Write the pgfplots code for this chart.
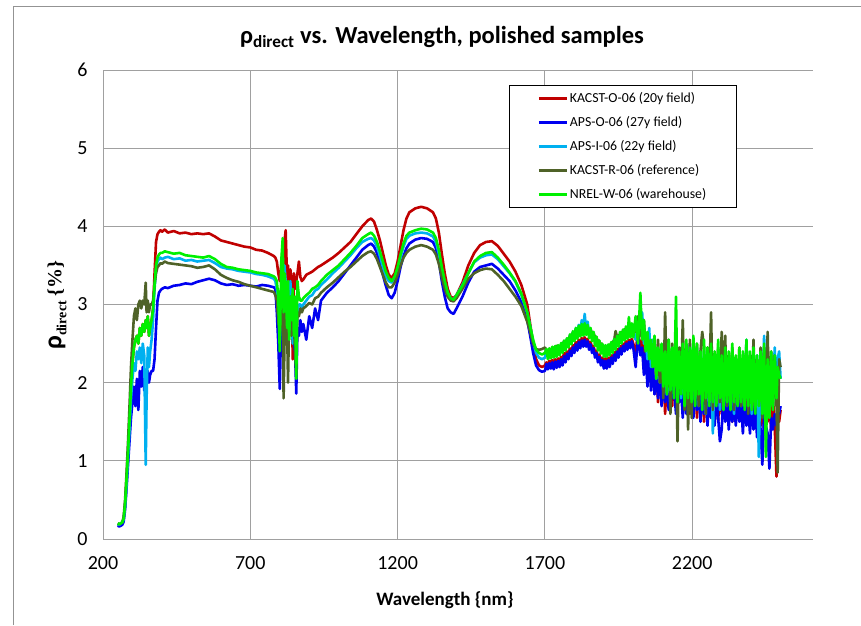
\documentclass[border=0pt]{standalone}
\usepackage{pgfplots}
\pgfplotsset{compat=1.18}
\usepackage{pgfplotstable}
\usepackage{fontspec}
\setmainfont{Carlito}
\newfontfamily\serif{Liberation Serif}
\definecolor{cRed}{HTML}{C00000}
\definecolor{cBlue}{HTML}{0000F0}
\definecolor{cCyan}{HTML}{00B0F0}
\definecolor{cOlive}{HTML}{4F6228}
\definecolor{cGreen}{HTML}{00F000}
\definecolor{gridc}{HTML}{A0A0A0}
\pgfplotstableread{
x r b c o g
250 0.19 0.17 0.19 0.20 0.20
255 0.18 0.16 0.18 0.19 0.19
260 0.19 0.17 0.20 0.20 0.20
265 0.20 0.18 0.21 0.21 0.21
270 0.25 0.22 0.25 0.28 0.26
275 0.43 0.38 0.42 0.50 0.45
280 0.74 0.65 0.70 0.85 0.78
285 1.08 0.95 1.05 1.25 1.12
290 1.46 1.25 1.40 1.70 1.52
295 1.95 1.55 1.80 2.20 1.95
300 2.25 1.75 2.05 2.55 2.25
305 2.45 1.95 2.25 2.85 2.45
310 2.55 1.70 2.15 2.95 2.55
315 2.60 2.05 2.40 2.80 2.60
320 2.50 1.65 2.30 3.00 2.50
325 2.70 2.15 2.45 3.05 2.70
330 2.60 1.95 2.25 2.95 2.60
335 2.75 2.20 2.50 3.05 2.75
340 2.65 1.90 2.35 3.00 2.65
345 2.80 2.10 0.95 3.28 2.80
348 2.70 2.05 1.80 2.90 2.70
352 2.85 2.15 2.45 3.05 2.85
356 2.60 2.00 2.20 2.90 2.60
360 2.70 2.10 2.40 3.00 2.70
365 2.80 2.15 2.55 3.00 2.80
370 2.95 2.15 2.80 3.05 2.95
375 3.40 2.30 3.20 3.25 3.25
380 3.80 2.70 3.45 3.40 3.50
385 3.90 3.05 3.55 3.48 3.60
390 3.93 3.15 3.58 3.50 3.64
395 3.95 3.18 3.60 3.53 3.66
400 3.93 3.20 3.58 3.52 3.66
410 3.96 3.22 3.60 3.55 3.68
420 3.92 3.21 3.61 3.53 3.67
440 3.94 3.24 3.58 3.52 3.65
460 3.91 3.25 3.59 3.51 3.66
480 3.92 3.27 3.56 3.50 3.63
500 3.90 3.26 3.57 3.49 3.62
520 3.91 3.29 3.55 3.47 3.61
540 3.90 3.31 3.56 3.48 3.60
560 3.91 3.33 3.57 3.50 3.62
580 3.87 3.31 3.53 3.45 3.58
600 3.82 3.27 3.48 3.38 3.52
620 3.80 3.25 3.46 3.34 3.48
640 3.78 3.26 3.45 3.31 3.47
660 3.76 3.24 3.43 3.29 3.45
680 3.74 3.25 3.42 3.26 3.44
700 3.73 3.24 3.41 3.24 3.43
720 3.70 3.23 3.39 3.22 3.41
740 3.69 3.25 3.38 3.20 3.40
760 3.66 3.24 3.36 3.18 3.39
780 3.62 3.22 3.33 3.16 3.36
785 3.60 3.20 3.30 3.12 3.34
790 3.55 2.90 3.20 3.05 3.30
795 3.40 2.50 3.05 2.80 3.10
800 3.30 1.92 2.60 2.60 2.40
805 3.50 2.80 3.10 2.95 3.55
810 3.70 3.40 3.60 3.30 3.85
813 3.40 2.60 3.00 1.80 2.90
816 3.80 3.30 3.50 2.50 3.40
820 3.95 3.00 3.30 3.10 3.20
825 3.30 2.60 2.90 2.70 2.70
828 3.50 3.10 3.20 2.00 3.30
832 3.20 2.70 2.80 2.90 2.55
836 3.45 3.00 3.30 3.10 3.10
840 3.30 2.60 2.90 2.60 2.80
844 2.30 2.80 2.50 2.90 3.20
848 3.40 2.50 2.80 2.75 2.60
852 3.20 2.40 2.70 2.40 3.10
856 3.30 1.86 2.60 2.10 2.05
860 3.40 2.70 2.90 2.90 3.30
865 3.55 2.60 3.00 2.85 3.10
870 3.35 2.80 3.00 2.95 3.05
875 3.30 2.65 2.95 2.90 3.05
880 3.32 2.75 3.00 2.95 3.08
890 3.38 2.55 3.05 2.98 3.12
900 3.40 2.85 3.10 3.02 3.15
910 3.42 2.70 3.12 3.00 3.20
920 3.45 2.95 3.18 3.08 3.22
930 3.48 2.80 3.20 3.10 3.25
940 3.50 3.05 3.25 3.15 3.30
960 3.55 3.15 3.32 3.22 3.38
980 3.60 3.22 3.40 3.28 3.44
1000 3.66 3.30 3.47 3.35 3.50
1020 3.73 3.40 3.55 3.42 3.58
1040 3.80 3.50 3.63 3.48 3.66
1060 3.90 3.60 3.72 3.55 3.75
1080 4.00 3.70 3.80 3.62 3.85
1100 4.08 3.76 3.84 3.67 3.90
1110 4.10 3.78 3.85 3.68 3.92
1120 4.06 3.74 3.82 3.65 3.88
1130 3.95 3.66 3.74 3.58 3.80
1140 3.82 3.52 3.62 3.48 3.68
1150 3.66 3.38 3.48 3.38 3.55
1160 3.50 3.24 3.36 3.28 3.42
1170 3.38 3.12 3.30 3.22 3.34
1180 3.34 3.08 3.28 3.22 3.30
1190 3.40 3.15 3.34 3.28 3.36
1200 3.55 3.30 3.45 3.38 3.48
1210 3.75 3.48 3.60 3.50 3.64
1220 3.95 3.62 3.74 3.60 3.78
1230 4.10 3.72 3.84 3.66 3.88
1240 4.18 3.78 3.88 3.70 3.92
1260 4.23 3.83 3.91 3.74 3.95
1280 4.25 3.85 3.92 3.76 3.97
1300 4.23 3.84 3.91 3.74 3.96
1320 4.18 3.80 3.87 3.70 3.92
1330 4.10 3.72 3.80 3.64 3.85
1340 3.92 3.55 3.65 3.52 3.70
1350 3.65 3.30 3.45 3.35 3.48
1360 3.40 3.10 3.28 3.20 3.30
1370 3.20 2.95 3.15 3.10 3.15
1380 3.10 2.90 3.08 3.05 3.08
1390 3.08 2.88 3.06 3.04 3.06
1400 3.12 2.95 3.12 3.08 3.12
1420 3.28 3.10 3.25 3.20 3.24
1440 3.50 3.28 3.40 3.33 3.40
1460 3.66 3.42 3.54 3.40 3.55
1480 3.76 3.48 3.60 3.44 3.62
1500 3.80 3.50 3.63 3.46 3.66
1520 3.81 3.52 3.64 3.45 3.67
1540 3.75 3.46 3.58 3.38 3.60
1560 3.65 3.38 3.49 3.30 3.51
1580 3.55 3.30 3.40 3.20 3.41
1600 3.42 3.18 3.29 3.10 3.30
1620 3.25 3.03 3.12 2.98 3.14
1640 3.00 2.80 2.90 2.78 2.90
1650 2.75 2.60 2.72 2.65 2.72
1660 2.50 2.38 2.52 2.50 2.55
1670 2.30 2.22 2.38 2.43 2.42
1680 2.22 2.16 2.32 2.42 2.38
1690 2.20 2.14 2.30 2.43 2.36
1700 2.22 2.15 2.32 2.45 2.38
1705 2.26 2.24 2.42 2.42 2.43
1710 2.23 2.17 2.35 2.37 2.30
1715 2.28 2.25 2.43 2.43 2.44
1720 2.24 2.18 2.36 2.40 2.31
1725 2.29 2.26 2.44 2.45 2.46
1730 2.25 2.17 2.37 2.44 2.32
1735 2.30 2.27 2.45 2.46 2.47
1740 2.26 2.19 2.38 2.47 2.33
1745 2.31 2.28 2.46 2.47 2.48
1750 2.27 2.20 2.40 2.44 2.35
1755 2.33 2.30 2.49 2.49 2.51
1760 2.30 2.22 2.43 2.48 2.38
1765 2.38 2.34 2.53 2.53 2.54
1770 2.33 2.26 2.46 2.50 2.41
1775 2.40 2.37 2.56 2.56 2.57
1780 2.37 2.30 2.50 2.53 2.45
1785 2.44 2.41 2.61 2.60 2.62
1790 2.40 2.34 2.54 2.58 2.49
1795 2.48 2.45 2.65 2.64 2.66
1800 2.45 2.38 2.58 2.62 2.53
1805 2.52 2.49 2.70 2.68 2.70
1810 2.48 2.41 2.61 2.65 2.56
1815 2.55 2.52 2.74 2.70 2.73
1820 2.51 2.44 2.64 2.68 2.59
1825 2.57 2.54 2.80 2.72 2.75
1830 2.53 2.46 2.68 2.70 2.60
1835 2.58 2.55 2.88 2.74 2.76
1840 2.53 2.46 2.67 2.71 2.61
1845 2.56 2.53 2.78 2.72 2.74
1850 2.49 2.42 2.62 2.66 2.57
1855 2.52 2.49 2.68 2.68 2.70
1860 2.45 2.38 2.58 2.64 2.53
1865 2.47 2.44 2.63 2.64 2.65
1870 2.39 2.32 2.52 2.58 2.47
1875 2.41 2.38 2.57 2.58 2.59
1880 2.33 2.26 2.46 2.53 2.41
1885 2.36 2.33 2.52 2.52 2.54
1890 2.29 2.22 2.42 2.50 2.37
1895 2.32 2.29 2.48 2.48 2.50
1900 2.25 2.18 2.38 2.46 2.33
1905 2.31 2.28 2.46 2.46 2.48
1910 2.25 2.18 2.38 2.45 2.33
1915 2.32 2.29 2.47 2.47 2.49
1920 2.27 2.20 2.40 2.48 2.35
1925 2.35 2.32 2.50 2.50 2.52
1930 2.31 2.24 2.44 2.52 2.38
1935 2.39 2.36 2.55 2.54 2.56
1940 2.35 2.28 2.48 2.66 2.42
1945 2.43 2.40 2.58 2.58 2.60
1950 2.39 2.32 2.52 2.60 2.46
1955 2.47 2.44 2.62 2.62 2.65
1960 2.43 2.36 2.56 2.64 2.50
1965 2.50 2.47 2.66 2.66 2.68
1970 2.47 2.40 2.60 2.68 2.54
1975 2.53 2.50 2.69 2.69 2.72
1980 2.49 2.42 2.62 2.70 2.56
1985 2.55 2.52 2.71 2.71 2.84
1990 2.51 2.44 2.64 2.72 2.58
1995 2.56 2.53 2.72 2.72 2.76
2000 2.50 2.45 2.64 2.74 2.58
2008 2.35 2.20 2.55 2.65 2.85
2016 2.70 2.60 2.75 2.85 2.50
2024 2.40 2.35 2.65 2.60 3.15
2030 2.55 2.45 2.90 2.75 2.55
2036 2.20 2.10 2.50 2.80 2.80
2042 2.50 2.40 2.60 2.45 2.40
2048 2.10 1.95 2.30 2.60 2.65
2054 2.45 2.35 2.70 2.40 2.30
2060 2.00 1.90 2.20 2.50 2.55
2066 2.30 2.20 2.55 2.20 2.20
2072 1.90 1.85 2.40 2.45 2.60
2078 2.25 2.10 2.05 2.15 2.05
2084 1.75 1.80 2.35 2.55 2.45
2090 2.20 2.15 2.00 2.00 2.15
2096 1.80 1.70 2.45 2.40 2.50
2102 2.30 2.05 1.90 1.80 1.95
2108 1.60 1.75 2.30 2.90 2.40
2114 2.10 2.00 1.85 1.95 1.85
2120 1.90 1.65 2.50 2.55 2.55
2126 2.20 2.10 1.70 1.60 1.90
2132 1.70 1.80 2.40 2.50 2.45
2138 2.15 1.95 2.00 2.10 1.80
2145 1.85 1.60 2.55 2.45 3.10
2150 2.05 2.10 1.90 1.25 1.75
2156 1.80 1.75 2.35 2.45 2.40
2162 2.25 1.90 1.80 2.00 1.85
2168 1.65 1.55 2.45 2.80 2.50
2174 2.00 2.05 1.75 1.65 1.70
2180 1.75 1.60 2.30 2.45 2.55
2186 2.10 1.95 1.95 1.40 1.80
2192 1.60 1.70 2.50 2.55 2.45
2198 2.05 1.85 1.65 1.55 1.75
2204 1.85 1.55 2.35 2.45 2.60
2210 2.15 2.00 1.80 2.10 1.70
2216 1.55 1.65 2.45 2.50 2.50
2222 1.95 1.90 1.70 1.70 1.85
2228 1.70 1.50 2.25 2.40 2.40
2234 2.10 1.95 1.85 2.65 1.65
2240 1.50 1.60 2.40 2.45 2.55
2246 1.95 1.80 1.60 1.60 1.80
2252 1.65 1.45 2.30 2.45 2.45
2258 2.00 1.90 1.75 2.00 1.70
2264 1.55 1.55 2.45 2.90 2.50
2270 1.90 1.85 1.35 1.65 1.75
2276 1.70 1.45 2.20 2.35 2.40
2282 2.05 1.90 1.85 2.00 1.70
2288 1.50 1.55 2.35 2.45 2.55
2294 1.95 1.25 1.65 1.75 1.80
2300 1.60 1.40 2.30 2.65 2.35
2306 2.00 1.85 1.80 1.95 1.65
2312 1.55 1.50 2.40 2.60 2.45
2318 1.90 1.80 1.70 1.70 1.75
2324 1.60 1.40 2.25 2.35 2.40
2330 1.95 1.85 1.80 1.95 1.65
2336 1.50 1.50 2.35 2.45 2.50
2342 1.85 1.75 1.60 1.65 1.75
2348 1.60 1.45 2.20 2.30 2.35
2354 1.95 1.85 1.75 1.90 1.70
2360 1.55 1.50 2.30 2.45 2.45
2366 1.90 1.75 1.70 1.70 1.75
2372 1.50 1.35 2.25 2.35 2.40
2378 1.85 1.80 1.80 1.95 1.65
2384 1.55 1.45 2.55 2.50 2.55
2390 1.90 1.70 1.70 1.60 1.70
2396 1.45 1.35 2.30 2.35 2.40
2402 1.80 1.75 1.60 1.85 1.65
2408 1.50 1.40 2.20 2.55 2.45
2414 1.85 1.70 1.75 1.65 1.60
2420 1.40 1.30 2.35 2.30 2.35
2426 1.80 1.65 1.05 1.80 1.70
2432 1.45 1.40 2.30 2.45 2.40
2438 1.75 0.95 1.65 1.55 1.60
2444 1.35 1.60 2.60 2.45 2.50
2450 1.70 1.45 1.75 1.70 1.05
2456 1.50 1.35 2.25 2.65 2.30
2462 1.75 0.90 1.60 1.55 1.55
2468 1.40 1.55 2.35 2.40 2.40
2474 1.80 1.40 1.70 1.70 1.65
2480 1.45 1.60 2.45 2.35 2.35
2486 0.80 1.45 1.75 1.75 1.80
2490 1.70 1.65 2.30 0.85 2.20
2495 1.50 1.60 2.40 2.30 2.10
2500 1.65 1.70 2.05 2.20 2.05
}\spectra
\begin{document}
\begin{tikzpicture}
\path[use as bounding box] (0pt,0pt) rectangle (861pt,625pt);
\draw[gray!85, line width=1pt] (13pt,0pt) -- (13pt,618pt) -- (861pt,618pt);
\begin{axis}[
  at={(103pt,86pt)}, anchor=south west,
  scale only axis, width=710pt, height=469pt,
  xmin=200, xmax=2610, ymin=0, ymax=6,
  xtick={200,700,1200,1700,2200}, ytick={0,1,2,3,4,5,6},
  grid=major, grid style={draw=gridc, line width=1pt},
  axis line style={draw=none}, tick style={draw=none},
  /pgf/number format/assume math mode=true,
  /pgf/number format/1000 sep={},
  ticklabel style={font=\fontsize{20}{22}\selectfont},
  xticklabel style={yshift=-14pt},
  yticklabel style={xshift=-12pt},
  legend cell align=left,
  legend style={at={(0.572,0.968)}, anchor=north west, draw=black, line width=0.9pt,
    font=\fontsize{13.8}{15}\selectfont, row sep=8.5pt, inner xsep=2pt, inner ysep=5pt,
    nodes={inner xsep=1.5pt}},
  legend image code/.code={\path (0pt,0pt); \draw[#1, line width=3pt] (26pt,0pt) -- (54pt,0pt);},
  every axis plot/.append style={line width=2.6pt, line join=round, mark=none},
]
\addplot[cRed] table[x=x, y=r] {\spectra};
\addlegendentry{KACST-O-06 (20y field)}
\addplot[cBlue] table[x=x, y=b] {\spectra};
\addlegendentry{APS-O-06 (27y field)}
\addplot[cCyan] table[x=x, y=c] {\spectra};
\addlegendentry{APS-I-06 (22y field)}
\addplot[cOlive] table[x=x, y=o] {\spectra};
\addlegendentry{KACST-R-06 (reference)}
\addplot[cGreen] table[x=x, y=g] {\spectra};
\addlegendentry{NREL-W-06 (warehouse)\hspace*{27pt}}
\end{axis}
\node at (442pt,588pt) {\fontsize{24.5}{26}\selectfont\bfseries ρ\textsubscript{direct} vs. Wavelength, polished samples};
\node at (445pt,25pt) {\fontsize{19}{22}\selectfont\bfseries Wavelength \{nm\}};
\node[rotate=90] at (57pt,320pt) {{\fontsize{26}{26}\selectfont\bfseries ρ}\raisebox{-5pt}{\serif\bfseries\fontsize{14}{14}\selectfont direct}\,{\serif\bfseries\fontsize{20}{20}\selectfont\,\{\%\}}};
\end{tikzpicture}
\end{document}
